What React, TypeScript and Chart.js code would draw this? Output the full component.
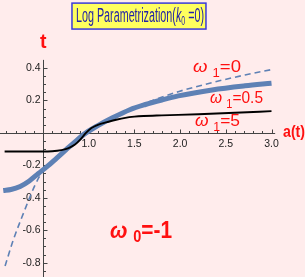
import React, { useEffect, useRef } from 'react';
import { Chart, registerables } from 'chart.js';

Chart.register(...registerables);

// ---------- data ----------
// omega1 = 5 (black)
const aW5 = [0.08, 0.5, 0.6, 0.7, 0.78, 0.85, 0.91, 0.97, 1.03, 1.1, 1.2, 1.3, 1.4, 1.5, 1.6, 1.8, 2.2, 2.6, 3.0];
const tW5 = [-0.115, -0.115, -0.113, -0.106, -0.094, -0.072, -0.04, 0, 0.03, 0.05, 0.066, 0.081, 0.093, 0.1, 0.104, 0.108, 0.115, 0.124, 0.134];
// omega1 = 0.5 (thick blue)
const aW05 = [0.065, 0.15, 0.25, 0.35, 0.45, 0.55, 0.65, 0.75, 0.85, 0.97, 1.1, 1.25, 1.45, 1.62, 1.8, 1.98, 2.35, 2.71, 3.0];
const tW05 = [-0.355, -0.349, -0.33, -0.296, -0.25, -0.205, -0.155, -0.105, -0.055, 0, 0.045, 0.09, 0.143, 0.175, 0.203, 0.228, 0.265, 0.29, 0.306];
// omega1 = 0 (dashed blue)
const aW0 = [0.085, 0.175, 0.3, 0.36, 0.41, 0.46, 0.52, 0.6, 0.75, 0.97, 1.2, 1.45, 1.7, 1.98, 2.35, 2.71, 3.0];
const tW0 = [-0.82, -0.66, -0.475, -0.39, -0.325, -0.27, -0.22, -0.178, -0.103, 0, 0.08, 0.146, 0.2, 0.254, 0.31, 0.357, 0.39];

const xTickValues = [1.0, 1.5, 2.0, 2.5, 3.0];
const xTickLabels = ['1.0', '1.5', '2.0', '2.5', '3.0'];
const yTickValues = [0.4, 0.2, -0.2, -0.4, -0.6, -0.8];
const yTickLabels = ['0.4', '0.2', '-0.2', '-0.4', '-0.6', '-0.8'];

// ---------- layout / style ----------
const W = 305;
const H = 277;
const X_MIN = 0.0295;
const X_MAX = 3.3665;
const Y_MIN = -0.8881;
const Y_MAX = 0.8191;
const Y_AXIS_AT = 0.5;
const X_AXIS_END = 3.04;
const Y_AXIS_TOP = 0.45;

const BG = '#FFECEC';
const BLUE = '#5E81B5';
const RED = '#FF1010';
const AXIS = '#444444';
const FONT = '"Liberation Sans", Arial, sans-serif';

type Part = { text: string; font: string; dy?: number };

function drawParts(ctx: CanvasRenderingContext2D, parts: Part[], x: number, y: number, width: number, color: string) {
  ctx.save();
  let total = 0;
  for (const p of parts) {
    ctx.font = p.font;
    total += ctx.measureText(p.text).width;
  }
  const s = width / total;
  ctx.translate(x, y);
  ctx.scale(s, 1);
  ctx.fillStyle = color;
  ctx.textAlign = 'left';
  ctx.textBaseline = 'alphabetic';
  let cx = 0;
  for (const p of parts) {
    ctx.font = p.font;
    ctx.fillText(p.text, cx, p.dy || 0);
    cx += ctx.measureText(p.text).width;
  }
  ctx.restore();
}

const bgPlugin = {
  id: 'bg',
  beforeDraw(chart: any) {
    const ctx = chart.ctx;
    ctx.save();
    ctx.fillStyle = BG;
    ctx.fillRect(0, 0, chart.width, chart.height);
    ctx.restore();
  },
};

const axesPlugin = {
  id: 'mmaAxes',
  beforeDatasetsDraw(chart: any) {
    const ctx: CanvasRenderingContext2D = chart.ctx;
    const xs = chart.scales.x;
    const ys = chart.scales.y;
    const ax = Math.round(xs.getPixelForValue(Y_AXIS_AT)) + 0.5;
    const ay = Math.round(ys.getPixelForValue(0)) + 0.5;
    ctx.save();
    ctx.strokeStyle = AXIS;
    ctx.lineWidth = 1;
    ctx.beginPath();
    ctx.moveTo(0, ay);
    ctx.lineTo(xs.getPixelForValue(X_AXIS_END), ay);
    ctx.moveTo(ax, ys.getPixelForValue(Y_AXIS_TOP));
    ctx.lineTo(ax, H);
    // x ticks every 0.1, major every 0.5
    for (let i = 1; i <= 30; i++) {
      if (i === 5) continue;
      const p = Math.round(xs.getPixelForValue(i / 10)) + 0.5;
      const len = i % 5 === 0 ? 4 : 2.5;
      ctx.moveTo(p, ay);
      ctx.lineTo(p, ay - len);
    }
    // y ticks every 0.05, major every 0.2
    for (let k = -17; k <= 8; k++) {
      if (k === 0) continue;
      const p = Math.round(ys.getPixelForValue(k * 0.05)) + 0.5;
      const len = k % 4 === 0 ? 4 : 2.5;
      ctx.moveTo(ax, p);
      ctx.lineTo(ax + len, p);
    }
    ctx.stroke();

    ctx.fillStyle = '#222';
    ctx.font = `10.5px ${FONT}`;
    ctx.textAlign = 'center';
    ctx.textBaseline = 'top';
    xTickValues.forEach((v, i) => {
      ctx.fillText(xTickLabels[i], xs.getPixelForValue(v), ay + 5);
    });
    ctx.textAlign = 'right';
    ctx.textBaseline = 'middle';
    yTickValues.forEach((v, i) => {
      ctx.fillText(yTickLabels[i], ax - 3, ys.getPixelForValue(v));
    });
    ctx.restore();
  },
};

const labelsPlugin = {
  id: 'labels',
  afterDatasetsDraw(chart: any) {
    const ctx: CanvasRenderingContext2D = chart.ctx;
    const xs = chart.scales.x;
    const ys = chart.scales.y;
    const X = (v: number) => xs.getPixelForValue(v);
    const Y = (v: number) => ys.getPixelForValue(v);

    // title box
    ctx.save();
    const bx0 = X(0.817), bx1 = X(2.283), by0 = Y(0.8), by1 = Y(0.64);
    ctx.fillStyle = '#FFFF5E';
    ctx.fillRect(bx0, by0, bx1 - bx0, by1 - by0);
    ctx.strokeStyle = '#3A3AD8';
    ctx.lineWidth = 1.5;
    ctx.strokeRect(bx0, by0, bx1 - bx0, by1 - by0);
    ctx.restore();
    drawParts(ctx, [
      { text: 'Log Parametrization(', font: `20px ${FONT}` },
      { text: 'k', font: `italic 20px ${FONT}` },
      { text: '0', font: `13px ${FONT}`, dy: 3 },
      { text: ' =0)', font: `20px ${FONT}` },
    ], X(0.861), Y(0.684), 128, '#2323A8');

    // axis names
    drawParts(ctx, [{ text: 't', font: `bold 20px ${FONT}` }], X(0.467), Y(0.523), 6.5, RED);
    drawParts(ctx, [{ text: 'a(t)', font: `bold 17px ${FONT}` }], X(3.126), Y(-0.025), 22, RED);

    // curve labels
    const om = (sub: string, rest: string, a: number, t: number, w: number) =>
      drawParts(ctx, [
        { text: 'ω', font: `italic 17px ${FONT}` },
        { text: ' ', font: `17px ${FONT}` },
        { text: sub, font: `12px ${FONT}`, dy: 5 },
        { text: rest, font: `17px ${FONT}` },
      ], X(a), Y(t), w, RED);
    om('1', '=0', 2.141, 0.375, 48);
    om('1', '=0.5', 2.327, 0.184, 53);
    om('1', '=5', 2.163, 0.0425, 45);

    drawParts(ctx, [
      { text: 'ω', font: `italic bold 23px ${FONT}` },
      { text: ' ', font: `bold 23px ${FONT}` },
      { text: '0', font: `bold 16px ${FONT}`, dy: 4 },
      { text: '=-1', font: `bold 23px ${FONT}` },
    ], X(1.233), Y(-0.648), 62, RED);
  },
};

const toXY = (xs: number[], ys: number[]) => xs.map((x, i) => ({ x, y: ys[i] }));

export default function App() {
  const ref = useRef<HTMLCanvasElement | null>(null);

  useEffect(() => {
    document.body.style.margin = '0';
    document.body.style.background = BG;
    const canvas = ref.current;
    if (!canvas) return;
    const chart = new Chart(canvas, {
      type: 'line',
      data: {
        datasets: [
          {
            label: 'ω1=5',
            data: toXY(aW5, tW5),
            borderColor: '#000000',
            borderWidth: 1.9,
            pointRadius: 0,
            cubicInterpolationMode: 'monotone',
            fill: false,
          },
          {
            label: 'ω1=0.5',
            data: toXY(aW05, tW05),
            borderColor: BLUE,
            borderWidth: 5,
            pointRadius: 0,
            cubicInterpolationMode: 'monotone',
            fill: false,
          },
          {
            label: 'ω1=0',
            data: toXY(aW0, tW0),
            borderColor: BLUE,
            borderWidth: 1.6,
            borderDash: [6, 4],
            pointRadius: 0,
            cubicInterpolationMode: 'monotone',
            fill: false,
          },
        ],
      },
      options: {
        responsive: false,
        animation: false,
        devicePixelRatio: 1,
        events: [],
        layout: { padding: 0, autoPadding: false },
        plugins: {
          legend: { display: false },
          tooltip: { enabled: false },
          title: { display: false },
        },
        scales: {
          x: { type: 'linear', min: X_MIN, max: X_MAX, display: false },
          y: { type: 'linear', min: Y_MIN, max: Y_MAX, display: false },
        },
      } as any,
      plugins: [bgPlugin, axesPlugin, labelsPlugin],
    });
    return () => chart.destroy();
  }, []);

  return (
    <div style={{ width: W, height: H }}>
      <canvas ref={ref} width={W} height={H} style={{ display: 'block', width: W, height: H }} />
    </div>
  );
}
